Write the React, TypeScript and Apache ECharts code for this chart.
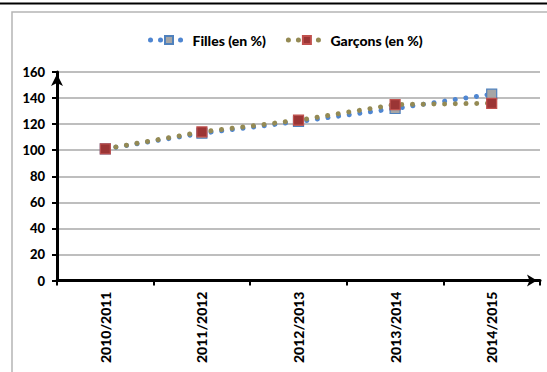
import React, { useEffect, useRef } from "react";
import * as echarts from "echarts";

const categories = ["2010/2011", "2011/2012", "2012/2013", "2013/2014", "2014/2015"];
const filles = [101, 113, 122, 132, 143];
const garcons = [101, 114, 123, 135, 136];
const yTicks = { min: 0, max: 160, interval: 20 };

const FONT = "Lato, 'Open Sans', sans-serif";

export default function App() {
  const ref = useRef<HTMLDivElement>(null);
  useEffect(() => {
    if (!ref.current) return;
    const chart = echarts.init(ref.current, null, { renderer: "svg" });
    const dot = (color: string) => ({
      color,
      width: 5,
      type: [0.01, 10.7] as any,
      cap: "round" as const,
    });
    chart.setOption({
      animation: false,
      backgroundColor: "#ffffff",
      textStyle: { fontFamily: FONT },
      graphic: [
        {
          type: "rect",
          shape: { x: 12, y: 12, width: 700, height: 500 },
          style: { fill: "none", stroke: "#b5b5b5", lineWidth: 1.5 },
          silent: true,
          z: -10,
        },
        {
          type: "line",
          shape: { x1: 0, y1: 3.5, x2: 547, y2: 3.5 },
          style: { stroke: "#000", lineWidth: 2.2 },
          silent: true,
        },
      ],
      legend: {
        top: 28,
        left: 143,
        itemWidth: 37,
        itemHeight: 10,
        itemGap: 20,
        lineStyle: { width: 5, type: [0.01, 10] as any, cap: "round" },
        textStyle: { fontFamily: FONT, fontWeight: 900, fontSize: 14, color: "#000" },
        data: ["Filles (en %)", "Garçons (en %)"],
      },
      grid: { left: 57, right: 7, top: 72, bottom: 91.5, containLabel: false },
      xAxis: {
        type: "category",
        data: categories,
        boundaryGap: true,
        axisLine: {
          show: true,
          symbol: ["none", "arrow"],
          symbolSize: [9, 10],
          symbolOffset: [0, -3],
          lineStyle: { color: "#000", width: 3 },
        },
        axisTick: { show: true, length: 5, lineStyle: { color: "#000", width: 2 } },
        axisLabel: {
          rotate: 90,
          margin: 11,
          fontFamily: FONT,
          fontWeight: 900,
          fontSize: 14,
          color: "#000",
        },
        splitLine: { show: false },
      },
      yAxis: {
        type: "value",
        min: yTicks.min,
        max: yTicks.max,
        interval: yTicks.interval,
        axisLine: {
          show: true,
          symbol: ["none", "arrow"],
          symbolSize: [9, 12],
          symbolOffset: [0, -2],
          lineStyle: { color: "#000", width: 3 },
        },
        axisTick: { show: true, length: 5, lineStyle: { color: "#000", width: 2 } },
        axisLabel: {
          margin: 12,
          fontFamily: FONT,
          fontWeight: 900,
          fontSize: 13,
          color: "#000",
        },
        splitLine: { show: true, lineStyle: { color: "#a8a8a8", width: 1.5 } },
      },
      series: [
        {
          name: "Filles (en %)",
          type: "line",
          data: filles,
          symbol: "rect",
          symbolSize: 10,
          itemStyle: { color: "#a6a6a6", borderColor: "#4f81bd", borderWidth: 1.2 },
          lineStyle: dot("#4f86d1"),
          z: 2,
        },
        {
          name: "Garçons (en %)",
          type: "line",
          data: garcons,
          symbol: "rect",
          symbolSize: 10,
          itemStyle: { color: "#9b3535", borderColor: "#c0504d", borderWidth: 1.2 },
          lineStyle: dot("#948a54"),
          z: 3,
        },
      ],
    });
    return () => chart.dispose();
  }, []);
  return (
    <div
      ref={ref}
      style={{ position: "absolute", left: 0, top: 0, width: 547, height: 372, background: "#fff" }}
    />
  );
}
